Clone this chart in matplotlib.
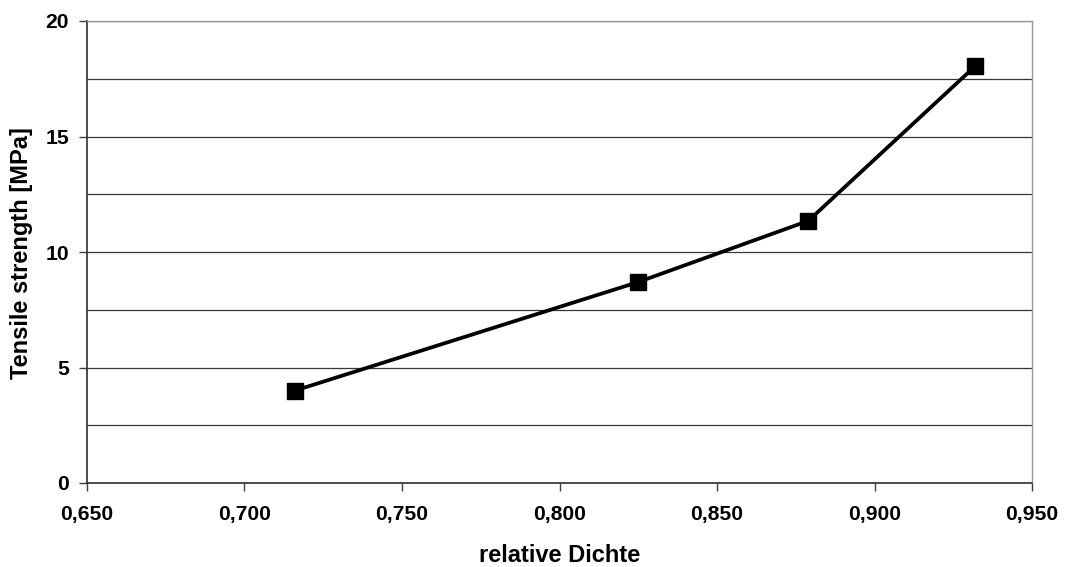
import numpy as np
import matplotlib.pyplot as plt
from matplotlib.ticker import MultipleLocator, FuncFormatter

plt.rcParams['font.family'] = ['Liberation Sans', 'DejaVu Sans']

# data
rel_density = [0.716, 0.825, 0.879, 0.932]
tensile_strength = [4.0, 8.7, 11.35, 18.05]

x_ticks = [0.650, 0.700, 0.750, 0.800, 0.850, 0.900, 0.950]
y_ticks = [0, 5, 10, 15, 20]

W, H = 1066, 567
fig = plt.figure(figsize=(W / 100, H / 100), dpi=100)
ax = fig.add_axes([87 / W, 1 - 483 / H, (1032 - 87) / W, (483 - 21) / H])

ax.plot(rel_density, tensile_strength, color='black', linewidth=2.7,
        marker='s', markersize=11.3, markerfacecolor='black', markeredgecolor='black',
        zorder=3, clip_on=False)

ax.set_xlim(0.650, 0.950)
ax.set_ylim(0, 20)
ax.set_xticks(x_ticks)
ax.set_yticks(y_ticks)
ax.yaxis.set_minor_locator(MultipleLocator(2.5))
ax.xaxis.set_major_formatter(FuncFormatter(lambda v, p: f"{v:.3f}".replace('.', ',')))

ax.grid(True, which='both', axis='y', color='#383838', linewidth=0.9)
ax.set_axisbelow(True)
ax.tick_params(axis='y', which='minor', length=0)
ax.tick_params(axis='both', which='major', direction='out', length=6, width=1,
               color='#404040', labelsize=15.2)
ax.tick_params(axis='x', pad=10)
ax.tick_params(axis='y', pad=7)
for lab in ax.get_xticklabels() + ax.get_yticklabels():
    lab.set_fontweight('bold')

for s in ['left', 'bottom']:
    ax.spines[s].set_color('#303030')
    ax.spines[s].set_linewidth(1.2)
for s in ['top', 'right']:
    ax.spines[s].set_color('#9a9a9a')
    ax.spines[s].set_linewidth(1)

fig.text(560 / W, 1 - 555 / H, 'relative Dichte', fontsize=17, fontweight='bold',
         ha='center', va='center')
fig.text(22 / W, 1 - 253 / H, 'Tensile strength [MPa]', fontsize=17, fontweight='bold',
         ha='center', va='center', rotation=90)

fig.savefig('out.png', dpi=100)
